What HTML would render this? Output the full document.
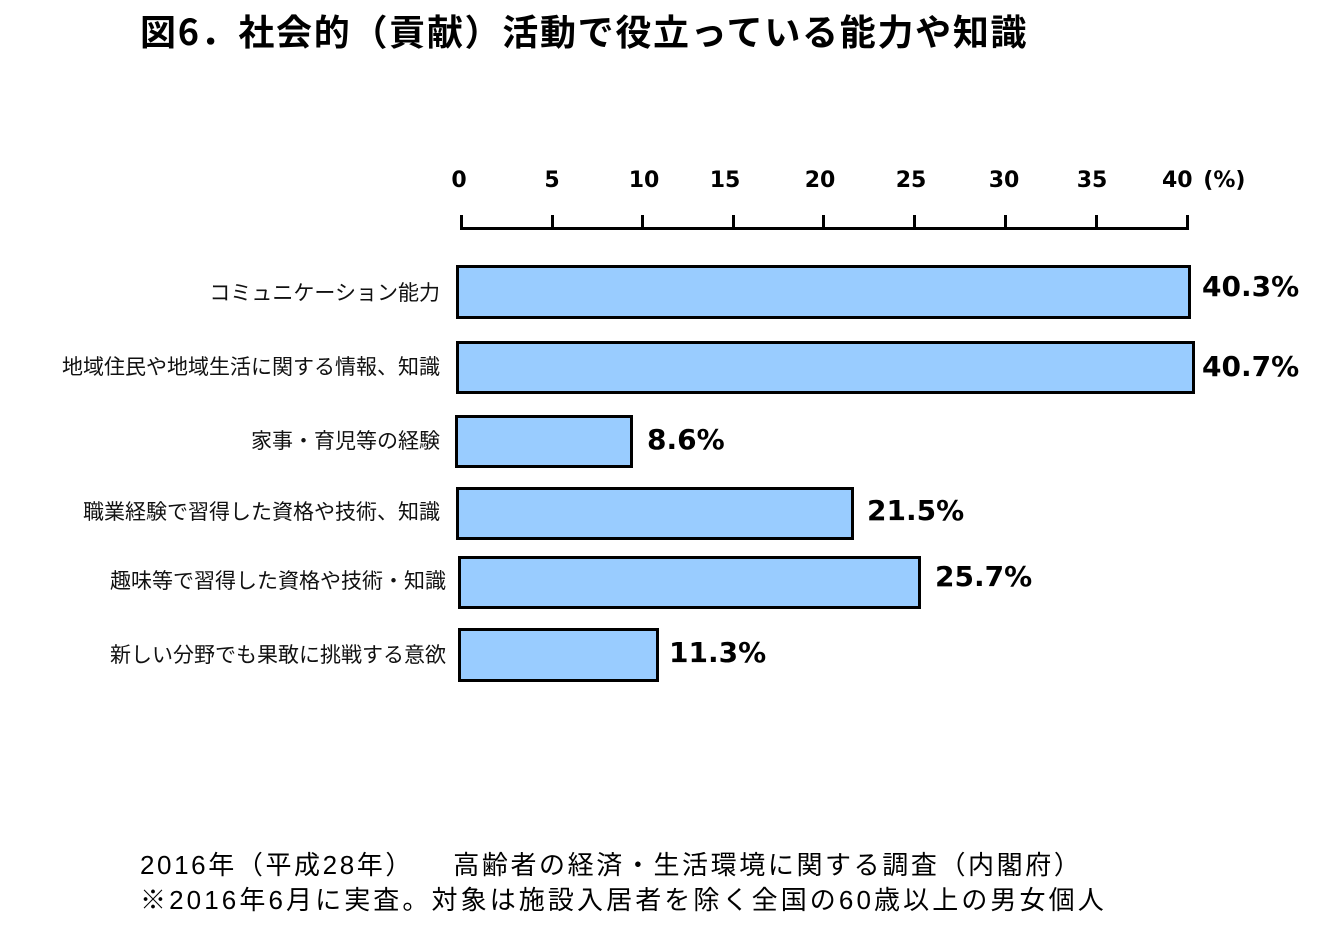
<!DOCTYPE html>
<html><head><meta charset="utf-8"><style>
body{margin:0;background:#fff;width:1320px;height:937px;overflow:hidden;position:relative;font-family:"Liberation Sans","Noto Sans CJK JP",sans-serif}
.a{position:absolute;white-space:nowrap}
.t{font-weight:bold;font-size:22px;font-family:"DejaVu Sans","Noto Sans CJK JP",sans-serif;top:168px;transform:translateX(-50%)}
.bar{position:absolute;background:#99ccff;border:3px solid #000;box-sizing:border-box}
.v{font-weight:bold;font-size:28px;font-family:"DejaVu Sans",sans-serif}
.c{font-size:21px;color:#111;text-align:right;right:880px;font-family:"Noto Sans CJK JP",sans-serif}
</style></head><body>
<div class="a" style="left:140px;top:4px;font-size:36px;font-weight:bold;letter-spacing:1.7px;font-family:'Noto Sans CJK JP',sans-serif">図6．社会的（貢献）活動で役立っている能力や知識</div>
<div class="a t" style="left:459px">0</div>
<div class="a t" style="left:552px">5</div>
<div class="a t" style="left:644px">10</div>
<div class="a t" style="left:725px">15</div>
<div class="a t" style="left:820px">20</div>
<div class="a t" style="left:911px">25</div>
<div class="a t" style="left:1004px">30</div>
<div class="a t" style="left:1092px">35</div>
<div class="a t" style="transform:none;left:1162px;word-spacing:3px">40 (%)</div>
<svg class="a" style="left:0;top:0" width="1320" height="240">
<g stroke="#000" stroke-width="3" fill="none">
<line x1="460" y1="228.5" x2="1189" y2="228.5"/>
<path d="M461.5 215v14M552.5 215v14M642.5 215v14M733.5 215v14M823.5 215v14M914.5 215v14M1005.5 215v14M1096.5 215v14M1187.5 215v14"/>
</g></svg>
<div class="bar" style="left:456px;top:265px;width:735px;height:54px"></div>
<div class="bar" style="left:456px;top:341px;width:739px;height:53px"></div>
<div class="bar" style="left:455px;top:415px;width:178px;height:53px"></div>
<div class="bar" style="left:456px;top:487px;width:398px;height:53px"></div>
<div class="bar" style="left:458px;top:556px;width:463px;height:53px"></div>
<div class="bar" style="left:458px;top:628px;width:201px;height:54px"></div>
<div class="a v" style="left:1202px;top:270px">40.3%</div>
<div class="a v" style="left:1202px;top:350px">40.7%</div>
<div class="a v" style="left:647px;top:423px">8.6%</div>
<div class="a v" style="left:867px;top:494px">21.5%</div>
<div class="a v" style="left:935px;top:560px">25.7%</div>
<div class="a v" style="left:669px;top:636px">11.3%</div>
<div class="a c" style="top:277px">コミュニケーション能力</div>
<div class="a c" style="top:351px">地域住民や地域生活に関する情報、知識</div>
<div class="a c" style="top:425px">家事・育児等の経験</div>
<div class="a c" style="top:496px">職業経験で習得した資格や技術、知識</div>
<div class="a c" style="top:565px;right:874px">趣味等で習得した資格や技術・知識</div>
<div class="a c" style="top:639px;right:874px">新しい分野でも果敢に挑戦する意欲</div>
<div class="a" style="left:140px;top:845px;font-size:26px;letter-spacing:2.6px">2016年（平成28年）&nbsp;&nbsp;&nbsp;&nbsp;高齢者の経済・生活環境に関する調査（内閣府）</div>
<div class="a" style="left:140px;top:880px;font-size:26px;letter-spacing:3.1px">※2016年6月に実査。対象は施設入居者を除く全国の60歳以上の男女個人</div>
</body></html>
